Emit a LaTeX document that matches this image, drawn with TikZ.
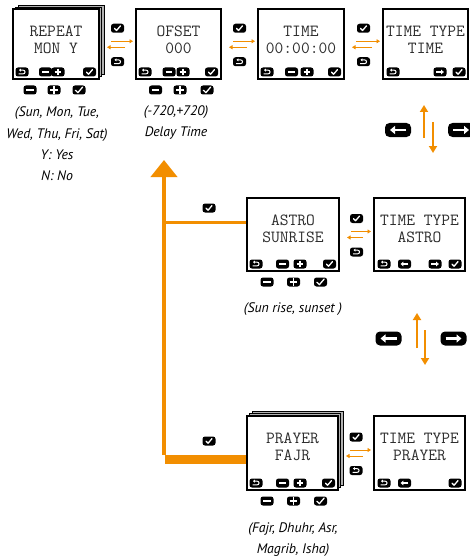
\documentclass[tikz,border=0pt]{standalone}
\usepackage{fontspec}
\setsansfont{PT Sans}
\usetikzlibrary{arrows.meta,calc,shadows}
\definecolor{org}{RGB}{242,142,0}
\definecolor{lcd}{RGB}{45,45,45}
\tikzset{
  ibg/.pic={\fill[black,rounded corners=2.5pt] (-6.5,-4.5) rectangle (6.5,4.5);},
  ckic/.pic={\pic{ibg};\draw[white,line width=1.3pt,line cap=round,line join=round] (-3,0.2) -- (-0.9,2.2) -- (3,-2.4);},
  mnic/.pic={\pic{ibg};\draw[white,line width=1.7pt] (-3.3,0) -- (3.3,0);},
  plic/.pic={\pic{ibg};\draw[white,line width=1.7pt] (-3.3,0) -- (3.3,0) (0,-3.3) -- (0,3.3);},
  bkic/.pic={\pic{ibg};\draw[white,line width=1pt,-{Triangle[length=1.8pt,width=2.8pt]}] (-3.4,1.9) -- (1,1.9) .. controls (3.7,1.9) and (3.7,-1.9) .. (1,-1.9) -- (-3.0,-1.9);},
  lfic/.pic={\pic{ibg};\draw[white,line width=1.3pt,-{Triangle[length=2.6pt,width=4.6pt]}] (3.8,0) -- (-3.8,0);},
  rtic/.pic={\pic{ibg};\draw[white,line width=1.3pt,-{Triangle[length=2.6pt,width=4.6pt]}] (-3.8,0) -- (3.8,0);},
  screen/.style={draw=black,line width=2pt,fill=white,inner sep=0pt},
  stack/.style={double copy shadow={shadow xshift=2.7pt,shadow yshift=2.2pt,fill=gray!60,draw=black,line width=0.7pt}},
  lcdtext/.style={text=lcd,font=\fontsize{17}{17}\selectfont\ttfamily,align=center,inner sep=0pt},
  caption/.style={text=black,font=\fontsize{13.8}{21.3}\selectfont\sffamily\itshape,align=center,inner sep=0pt},
  link/.style={draw=org,line width=0.9pt,-{Triangle[length=3.5pt,width=4pt]}},
  vlink/.style={draw=org,line width=1.8pt,-{Triangle[length=7pt,width=8pt]}},
  bigbtn/.style={fill=black,rounded corners=4.5pt,minimum width=26pt,minimum height=14pt,inner sep=0pt},
  bigarrow/.style={draw=white,line width=2.4pt,-{Triangle[length=5pt,width=8pt]}}
}
\newcommand\pmrow[3]{%
  \pic at ($(#1.south west)+(10,-8)$) {bkic};
  \pic at ($(#1.south west)+(#2,-8)$) {mnic};
  \pic at ($(#1.south west)+(#3,-8)$) {plic};
  \pic at ($(#1.south east)+(-10.5,-8)$) {ckic};}
\newcommand\btnrow[4]{%
  \pic[scale=1.2] at ($(#1.south)+(#2,10)$) {mnic};
  \pic[scale=1.2] at ($(#1.south)+(#3,10)$) {plic};
  \pic[scale=1.2] at ($(#1.south)+(#4,10)$) {ckic};}
\newcommand\pairlinks[2]{%
  \draw[link] ($(#1.east)+(11,-3)$) -- ($(#2.west)+(-2,-3)$);
  \draw[link] ($(#2.west)+(-10,3)$) -- ($(#1.east)+(7,3)$);
  \pic at ($(#1.east)!0.5!(#2.west)+(0,-16)$) {ckic};
  \pic at ($(#1.east)!0.5!(#2.west)+(0,17.5)$) {bkic};}
\begin{document}
\begin{tikzpicture}[x=1pt,y=-1pt]
\useasboundingbox[fill=white] (0,0) rectangle (470,559);

% --- orange flow lines (behind) ---
\coordinate (vbot) at (164,455);
\coordinate (vtop) at (164,160);
\draw[org,line width=4pt,-{Triangle[length=17pt,width=26pt]}] (vbot) -- (vtop);

% --- top row screens ---
\node[screen,stack,minimum width=86pt,minimum height=69.5pt] (s1) at (56,44.25) {};
\node[screen,minimum width=85pt,minimum height=69.5pt] (s2) at (178.5,44.25) {};
\node[screen,minimum width=86pt,minimum height=69.5pt] (s3) at (301,44.25) {};
\node[screen,minimum width=85pt,minimum height=69.5pt] (s4) at (425.5,44.25) {};

\node[lcdtext] (t1) at ($(s1.north)+(0,31.5)$) {REPEAT\\MON Y};
\node[lcdtext] (t2) at ($(s2.north)+(0,31.5)$) {OFSET\\000};
\node[lcdtext] (t3) at ($(s3.north)+(0,31)$) {TIME\\00:00:00};
\node[lcdtext] (t4) at ($(s4.north)+(0,31.5)$) {TIME TYPE\\TIME};

\pmrow{s1}{33.5}{46}
\pmrow{s2}{34}{48}
\pmrow{s3}{34.5}{50}
\pic at ($(s4.south west)+(11,-8)$) {bkic};
\pic at ($(s4.south east)+(-29,-8)$) {rtic};
\pic at ($(s4.south east)+(-10,-8)$) {ckic};

\btnrow{s1}{-26}{-2}{23}
\btnrow{s2}{-23}{1.5}{28.5}

\pairlinks{s1}{s2}
\pairlinks{s2}{s3}
\pairlinks{s3}{s4}

\node[caption] (c1) at (57,144) {(Sun, Mon, Tue,\\Wed, Thu, Fri, Sat)\\Y: Yes\\N: No};
\node[caption] (c2) at (176,122.5) {(-720,+720)\\Delay Time};

% --- first arrow group ---
\node[bigbtn] (bl1) at (398,130) {};
\node[bigbtn] (br1) at (461,130) {};
\draw[bigarrow] ($(bl1.center)+(8,0)$) -- ($(bl1.center)+(-8,0)$);
\draw[bigarrow] ($(br1.center)+(-8,0)$) -- ($(br1.center)+(8,0)$);
\coordinate (u1a) at (424,138); \coordinate (u1b) at (424,105);
\coordinate (d1a) at (433,122); \coordinate (d1b) at (433,153);
\draw[vlink] (u1a) -- (u1b);
\draw[vlink] (d1a) -- (d1b);

% --- astro row ---
\node[screen,minimum width=92pt,minimum height=73pt] (s5) at (293,234.5) {};
\node[screen,minimum width=91pt,minimum height=73pt] (s6) at (419.5,234.5) {};
\node[lcdtext] (t5) at ($(s5.north)+(0,31.5)$) {ASTRO\\SUNRISE};
\node[lcdtext] (t6) at ($(s6.north)+(0,31.5)$) {TIME TYPE\\ASTRO};
\pmrow{s5}{36.5}{54}
\pic at ($(s6.south west)+(11,-8)$) {bkic};
\pic at ($(s6.south west)+(31.5,-8)$) {lfic};
\pic at ($(s6.south east)+(-31,-8)$) {rtic};
\pic at ($(s6.south east)+(-11,-8)$) {ckic};
\btnrow{s5}{-26}{0.5}{27.5}
\pairlinks{s5}{s6}
\node[caption] (c5) at (293,309) {(Sun rise, sunset )};
\draw[org,line width=3pt] (164,222) -- ($(s5.west)+(0,-12.5)$);
\pic at (209,208) {ckic};

% --- second arrow group ---
\node[bigbtn] (bl2) at (388.5,338.5) {};
\node[bigbtn] (br2) at (453.5,338.5) {};
\draw[bigarrow] ($(bl2.center)+(8,0)$) -- ($(bl2.center)+(-8,0)$);
\draw[bigarrow] ($(br2.center)+(-8,0)$) -- ($(br2.center)+(8,0)$);
\coordinate (u2a) at (417,348); \coordinate (u2b) at (417,313);
\coordinate (d2a) at (425,330); \coordinate (d2b) at (425,365);
\draw[vlink] (u2a) -- (u2b);
\draw[vlink] (d2a) -- (d2b);

% --- prayer row ---
\node[screen,stack,minimum width=91pt,minimum height=74pt] (s7) at (292.5,453) {};
\node[screen,minimum width=91pt,minimum height=74pt] (s8) at (419.5,453) {};
\node[lcdtext] (t7) at ($(s7.north)+(0,31.5)$) {PRAYER\\FAJR};
\node[lcdtext] (t8) at ($(s8.north)+(0,31.5)$) {TIME TYPE\\PRAYER};
\pmrow{s7}{36.5}{54}
\pic at ($(s8.south west)+(11,-8)$) {bkic};
\pic at ($(s8.south west)+(31.5,-8)$) {lfic};
\pic at ($(s8.south east)+(-11,-8)$) {ckic};
\btnrow{s7}{-25.5}{1}{28}
\pairlinks{s7}{s8}
\node[caption] (c7) at (293,539.5) {(Fajr, Dhuhr, Asr,\\Magrib, Isha)};
\draw[org,line width=9pt] (165,459.5) -- ($(s7.west)+(0,6.5)$);
\pic at (209,441) {ckic};
\end{tikzpicture}
\end{document}
